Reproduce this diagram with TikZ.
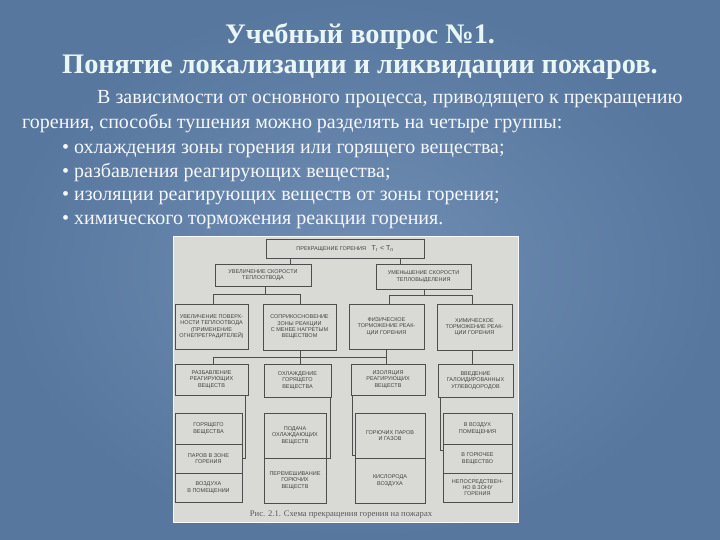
\documentclass[tikz,border=0pt]{standalone}
\usepackage{fontspec}
\setmainfont{Liberation Serif}
\newfontfamily\dsans{Liberation Sans}
\definecolor{bgblue}{RGB}{88,119,158}
\definecolor{bglight}{RGB}{112,142,180}
\definecolor{titlecol}{RGB}{232,246,248}
\definecolor{bodycol}{RGB}{245,247,250}
\definecolor{panel}{RGB}{217,217,213}
\definecolor{boxline}{RGB}{78,78,78}
\definecolor{boxtext}{RGB}{66,66,66}
\tikzset{
  titletext/.style={font=\bfseries\fontsize{28.3}{32}\selectfont, text=titlecol, inner sep=0pt},
  bodytext/.style={font=\fontsize{20}{24}\selectfont, text=bodycol, inner sep=0pt, anchor=base west},
  box/.style={draw=boxline, line width=1pt, fill=panel, inner sep=0pt, outer sep=0pt,
    align=center, text=boxtext, font=\dsans\fontsize{5.5}{6.3}\selectfont},
  conn/.style={draw=boxline, line width=1pt}
}
\newcommand\bx[6]{\node[box, minimum width={(#4-#2)*1pt}, minimum height={(#5-#3)*1pt}] (#1) at ({(#2+#4)/2},{(#3+#5)/2}) {#6};}
\begin{document}
\begin{tikzpicture}[x=1pt,y=-1pt]
\useasboundingbox (0,0) rectangle (720,540);
% background
\fill[bgblue] (0,0) rectangle (720,540);
\shade[inner color=bglight, outer color=bgblue] (0,0) rectangle (720,540);
% title
\node[titletext] (t1) at (360,36) {Учебный вопрос №1.};
\node[titletext] (t2) at (360,67) {Понятие локализации и ликвидации пожаров.};
% body
\node[bodytext] (b1) at (97,104) {В зависимости от основного процесса, приводящего к прекращению};
\node[bodytext] (b2) at (22,129) {горения, способы тушения можно разделять на четыре группы:};
\node[bodytext] (b3) at (62,154) {• охлаждения зоны горения или горящего вещества;};
\node[bodytext] (b4) at (62,178) {• разбавления реагирующих вещества;};
\node[bodytext] (b5) at (62,201) {• изоляции реагирующих веществ от зоны горения;};
\node[bodytext] (b6) at (62,225) {• химического торможения реакции горения.};
% scanned panel
\fill[panel, draw=white!85!panel, line width=1pt] (173,236) rectangle (518,522);
% boxes
\bx{top}{266}{239}{424}{258}{ПРЕКРАЩЕНИЕ ГОРЕНИЯ\quad\fontsize{7}{8}\selectfont T\textsubscript{г} < T\textsubscript{п}}
\bx{l2a}{215}{264}{311}{286}{УВЕЛИЧЕНИЕ СКОРОСТИ\\ТЕПЛООТВОДА}
\bx{l2b}{376}{264}{471}{289}{УМЕНЬШЕНИЕ СКОРОСТИ\\ТЕПЛОВЫДЕЛЕНИЯ}
\bx{l3a}{175}{304}{248}{349}{УВЕЛИЧЕНИЕ ПОВЕРХ-\\НОСТИ ТЕПЛООТВОДА\\(ПРИМЕНЕНИЕ\\ОГНЕПРЕГРАДИТЕЛЕЙ)}
\bx{l3b}{263}{304}{336}{350}{СОПРИКОСНОВЕНИЕ\\ЗОНЫ РЕАКЦИИ\\С МЕНЕЕ НАГРЕТЫМ\\ВЕЩЕСТВОМ}
\bx{l3c}{349}{304}{424}{349}{ФИЗИЧЕСКОЕ\\ТОРМОЖЕНИЕ РЕАК-\\ЦИИ ГОРЕНИЯ}
\bx{l3d}{437}{304}{512}{350}{ХИМИЧЕСКОЕ\\ТОРМОЖЕНИЕ РЕАК-\\ЦИИ ГОРЕНИЯ}
\bx{l4a}{175}{364}{248}{395}{РАЗБАВЛЕНИЕ\\РЕАГИРУЮЩИХ\\ВЕЩЕСТВ}
\bx{l4b}{264}{364}{331}{397}{ОХЛАЖДЕНИЕ\\ГОРЯЩЕГО\\ВЕЩЕСТВА}
\bx{l4c}{351}{364}{425}{395}{ИЗОЛЯЦИЯ\\РЕАГИРУЮЩИХ\\ВЕЩЕСТВ}
\bx{l4d}{438}{364}{513}{397}{ВВЕДЕНИЕ\\ГАЛОИДИРОВАННЫХ\\УГЛЕВОДОРОДОВ}
\bx{a1}{175}{413}{242}{444}{ГОРЯЩЕГО\\ВЕЩЕСТВА}
\bx{a2}{175}{444}{242}{473}{ПАРОВ В ЗОНЕ\\ГОРЕНИЯ}
\bx{a3}{175}{473}{242}{502}{ВОЗДУХА\\В ПОМЕЩЕНИИ}
\bx{b1x}{264}{413}{326}{458}{ПОДАЧА\\ОХЛАЖДАЮЩИХ\\ВЕЩЕСТВ}
\bx{b2x}{264}{458}{326}{503}{ПЕРЕМЕШИВАНИЕ\\ГОРЮЧИХ\\ВЕЩЕСТВ}
\bx{c1}{355}{413}{425}{458}{ГОРЮЧИХ ПАРОВ\\И ГАЗОВ}
\bx{c2}{355}{458}{425}{503}{КИСЛОРОДА\\ВОЗДУХА}
\bx{d1}{443}{413}{512}{444}{В ВОЗДУХ\\ПОМЕЩЕНИЯ}
\bx{d2}{443}{444}{512}{473}{В ГОРЮЧЕЕ\\ВЕЩЕСТВО}
\bx{d3}{443}{473}{512}{502}{НЕПОСРЕДСТВЕН-\\НО В ЗОНУ\\ГОРЕНИЯ}
% caption
\node[font=\fontsize{8.6}{10}\selectfont, text=black!65, inner sep=0pt] (cap) at (341,515) {Рис. 2.1. Схема прекращения горения на пожарах};
% junction coordinates
\coordinate (x290) at (290,0);
\coordinate (x400) at (400,0);
\coordinate (j1) at (265,294);
\coordinate (h1a) at (213,294);
\coordinate (h1b) at (300,294);
\coordinate (j2) at (424,295);
\coordinate (h2a) at (389,295);
\coordinate (h2b) at (472,295);
\coordinate (h3a) at (213,357);
\coordinate (h3b) at (300,357);
\coordinate (h3c) at (386,357);
\coordinate (x472) at (472,0);
\coordinate (ka) at (245,458);
\coordinate (kb) at (330,458);
\coordinate (kc) at (352,455);
\coordinate (kd) at (440,450);
% connectors
\draw[conn] (top.south -| x290) -- (l2a.north -| x290);
\draw[conn] (top.south -| x400) -- (l2b.north -| x400);
\draw[conn] (l2a.south -| j1) -- (j1);
\draw[conn] (l3a.north -| h1a) -- (h1a) -- (h1b) -- (l3b.north -| h1b);
\draw[conn] (l2b.south -| j2) -- (j2);
\draw[conn] (l3c.north -| h2a) -- (h2a) -- (h2b) -- (l3d.north -| h2b);
\draw[conn] (l4a.north -| h3a) -- (h3a) -- (h3c);
\draw[conn] (l3c.south -| h3c) -- (l4c.north -| h3c);
\draw[conn] (l3b.south -| h3b) -- (l4b.north -| h3b);
\draw[conn] (l3d.south -| x472) -- (l4d.north -| x472);
\draw[conn] (l4a.south -| ka) -- (ka) -- (a2.east |- ka);
\draw[conn] (l4b.south -| kb) -- (kb) -- (b1x.south east);
\draw[conn] (l4c.south -| kc) -- (kc) -- (c1.west |- kc);
\draw[conn] (l4d.south -| kd) -- (kd) -- (d2.west |- kd);
\end{tikzpicture}
\end{document}
